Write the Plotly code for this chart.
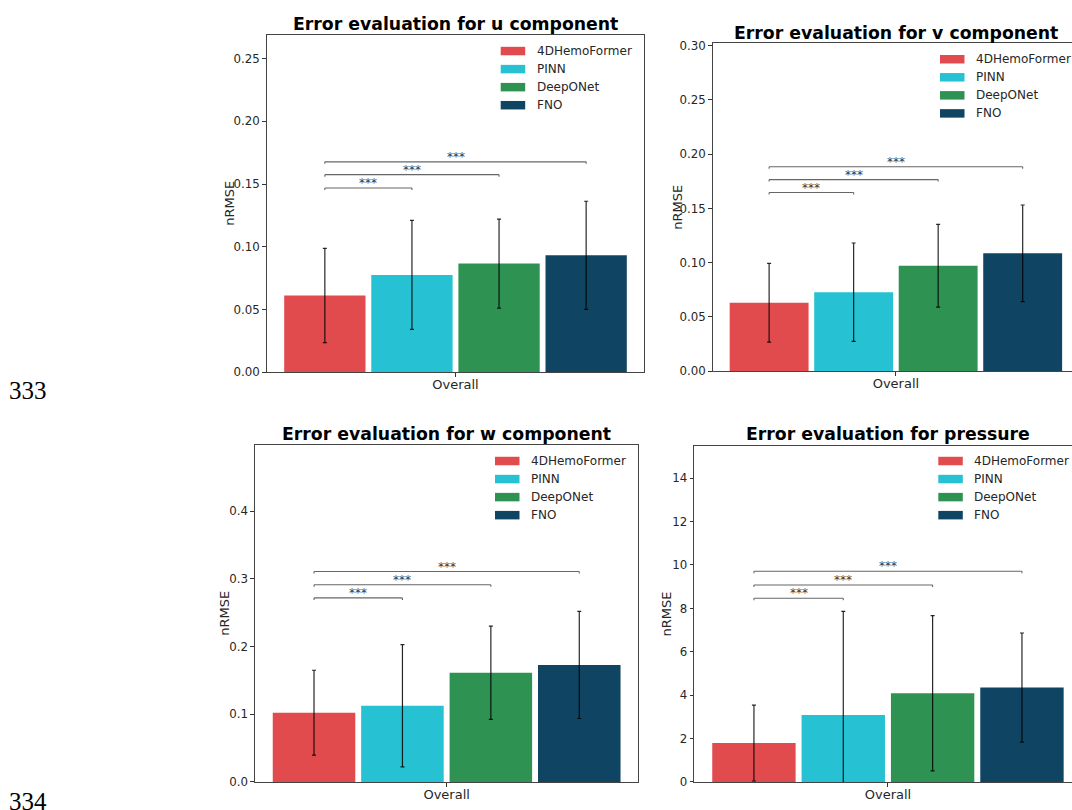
import plotly.graph_objects as go

# ---------------- data ----------------
methods = ["4DHemoFormer", "PINN", "DeepONet", "FNO"]
category = ["Overall"]
colors = ["#E24B4E", "#26C1D3", "#2E9352", "#0F4562"]

titles = ["Error evaluation for u component", "Error evaluation for v component",
          "Error evaluation for w component", "Error evaluation for pressure"]

u_mean = [0.0612, 0.0776, 0.0866, 0.0932]
u_std = [0.0376, 0.0435, 0.0355, 0.0431]
v_mean = [0.0631, 0.0728, 0.0971, 0.1086]
v_std = [0.0362, 0.0453, 0.0381, 0.0445]
w_mean = [0.1024, 0.1126, 0.1612, 0.1728]
w_std = [0.0626, 0.0903, 0.0689, 0.0791]
p_mean = [1.795, 3.09, 4.09, 4.35]
p_std = [1.75, 4.77, 3.576, 2.515]

sig_pairs = [(0, 1), (0, 2), (0, 3)]
sig_label = "***"
u_sig_y = [0.1468, 0.1575, 0.1677]
v_sig_y = [0.1646, 0.1765, 0.1883]
w_sig_y = [0.2718, 0.2913, 0.3107]
p_sig_y = [8.47, 9.076, 9.712]

page_numbers = ["333", "334"]

# ---------------- layout constants ----------------
W, H = 1072, 810
FONT = "DejaVu Sans"
TXT = "#262626"
BARGAP = 0.0773
GROUPGAP = 0.0666


def fx(px):
    return px / W


def fy(py):
    return 1 - py / H


panels = [
    dict(mean=u_mean, std=u_std, sig=u_sig_y, yr=0.2686, dtick=0.05, fmt=".2f",
         box=(266.7, 644.3, 31.7, 373.3), ylab_x=230, leg=(500.7, 47.7), tgap=11.7),
    dict(mean=v_mean, std=v_std, sig=v_sig_y, yr=0.3025, dtick=0.05, fmt=".2f",
         box=(712.7, 1079.1, 39.3, 372.3), ylab_x=676.7, leg=(940.0, 56.0), tgap=10.0),
    dict(mean=w_mean, std=w_std, sig=w_sig_y, yr=0.4969, dtick=0.1, fmt=".1f",
         box=(255.0, 638.3, 447.5, 788.7), ylab_x=225, leg=(495.0, 463.3), tgap=11.8),
    dict(mean=p_mean, std=p_std, sig=p_sig_y, yr=15.5, dtick=2, fmt="d",
         box=(694.3, 1081.6, 447.7, 788.7), ylab_x=666.7, leg=(938.3, 463.3), tgap=12.0),
]

group_w = 1 - BARGAP
slot = group_w / len(methods)
centers = [-group_w / 2 + slot * (k + 0.5) for k in range(len(methods))]

fig = go.Figure()
layout = dict(
    width=W, height=H, margin=dict(l=0, r=0, t=0, b=0),
    paper_bgcolor="white", plot_bgcolor="white",
    barmode="group", bargap=BARGAP, bargroupgap=GROUPGAP,
    showlegend=False, font=dict(family=FONT, color=TXT),
)
shapes = []
annotations = []

for i, p in enumerate(panels):
    n = i + 1
    xa = "x" if n == 1 else f"x{n}"
    ya = "y" if n == 1 else f"y{n}"
    left, full_right, top, bottom = p["box"]
    right = min(full_right, W)
    xmax = -0.5 + (right - left) / (full_right - left)
    clipped = full_right > W

    for k, m in enumerate(methods):
        fig.add_trace(go.Bar(
            x=category, y=[p["mean"][k]], name=m,
            marker=dict(color=colors[k], line=dict(width=0)),
            error_y=dict(type="data", array=[p["std"][k]], visible=True,
                         color="rgba(0,0,0,0.85)", thickness=1.2, width=2),
            xaxis=xa, yaxis=ya, offsetgroup=str(k), showlegend=False,
            hoverinfo="skip",
        ))

    layout["xaxis" if n == 1 else f"xaxis{n}"] = dict(
        domain=[fx(left), fx(right)], anchor=ya, type="category",
        range=[-0.5, xmax], showgrid=False, zeroline=False,
        showline=True, linecolor="#444", linewidth=1.3, mirror=True,
        ticks="outside", ticklen=3.5, tickwidth=1, tickcolor="#333",
        ticklabelstandoff=-3,
        tickfont=dict(family=FONT, size=13, color=TXT),
    )
    layout["yaxis" if n == 1 else f"yaxis{n}"] = dict(
        domain=[fy(bottom), fy(top)], anchor=xa,
        range=[0, p["yr"]], dtick=p["dtick"], tick0=0, tickformat=p["fmt"],
        showgrid=False, zeroline=False,
        showline=True, linecolor="#444", linewidth=1.3, mirror=(not clipped),
        ticks="outside", ticklen=3.5, tickwidth=1, tickcolor="#333",
        tickfont=dict(family=FONT, size=11.8, color=TXT),
    )

    # subplot title
    annotations.append(dict(
        text=f"<b>{titles[i]}</b>", xref="paper", yref="paper",
        x=fx((left + full_right) / 2), y=fy(top - p["tgap"]),
        xanchor="center", yanchor="middle", showarrow=False,
        font=dict(family=FONT, size=17.3, color="black")))
    # y-axis title
    annotations.append(dict(
        text="nRMSE", xref="paper", yref="paper", textangle=-90,
        x=fx(p["ylab_x"]), y=fy((top + bottom) / 2),
        xanchor="center", yanchor="middle", showarrow=False,
        font=dict(family=FONT, size=13, color=TXT)))

    # significance brackets
    drop = 0.006 * p["yr"]
    for (a, b), ys in zip(sig_pairs, p["sig"]):
        xa0, xa1 = centers[a], centers[b]
        for (x0, y0, x1, y1) in [(xa0, ys - drop, xa0, ys), (xa0, ys, xa1, ys), (xa1, ys, xa1, ys - drop)]:
            shapes.append(dict(type="line", xref=xa, yref=ya, x0=x0, y0=y0, x1=x1, y1=y1,
                               line=dict(color="#666", width=1.1)))
        annotations.append(dict(
            text=sig_label, xref=xa, yref=ya, x=(xa0 + xa1) / 2, y=ys,
            xanchor="center", yanchor="bottom", yshift=-4, showarrow=False,
            font=dict(family=FONT, size=12, color="#3a3a3a")))

    # legend (upper right)
    lx, ly = p["leg"]
    for k, m in enumerate(methods):
        cy = ly + k * 18.3
        shapes.append(dict(type="rect", xref="paper", yref="paper",
                           x0=fx(lx), x1=fx(lx + 24.5), y0=fy(cy - 4.3), y1=fy(cy + 4.3),
                           fillcolor=colors[k], line=dict(width=0)))
        annotations.append(dict(
            text=m, xref="paper", yref="paper", x=fx(lx + 34), y=fy(cy),
            xanchor="left", yanchor="middle", showarrow=False,
            font=dict(family=FONT, size=12, color=TXT)))

# page line numbers
for txt, py in zip(page_numbers, [391.5, 808.5]):
    annotations.append(dict(
        text=txt, xref="paper", yref="paper", x=fx(7), y=fy(py),
        xanchor="left", yanchor="middle", showarrow=False,
        font=dict(family="Liberation Serif", size=25, color="black")))

layout["shapes"] = shapes
layout["annotations"] = annotations
fig.update_layout(**layout)
fig.write_html(
    "out.html",
    config={"displayModeBar": False},
    post_script="document.body.style.margin='0';document.body.style.padding='0';"
                "document.body.style.overflow='hidden';",
)
